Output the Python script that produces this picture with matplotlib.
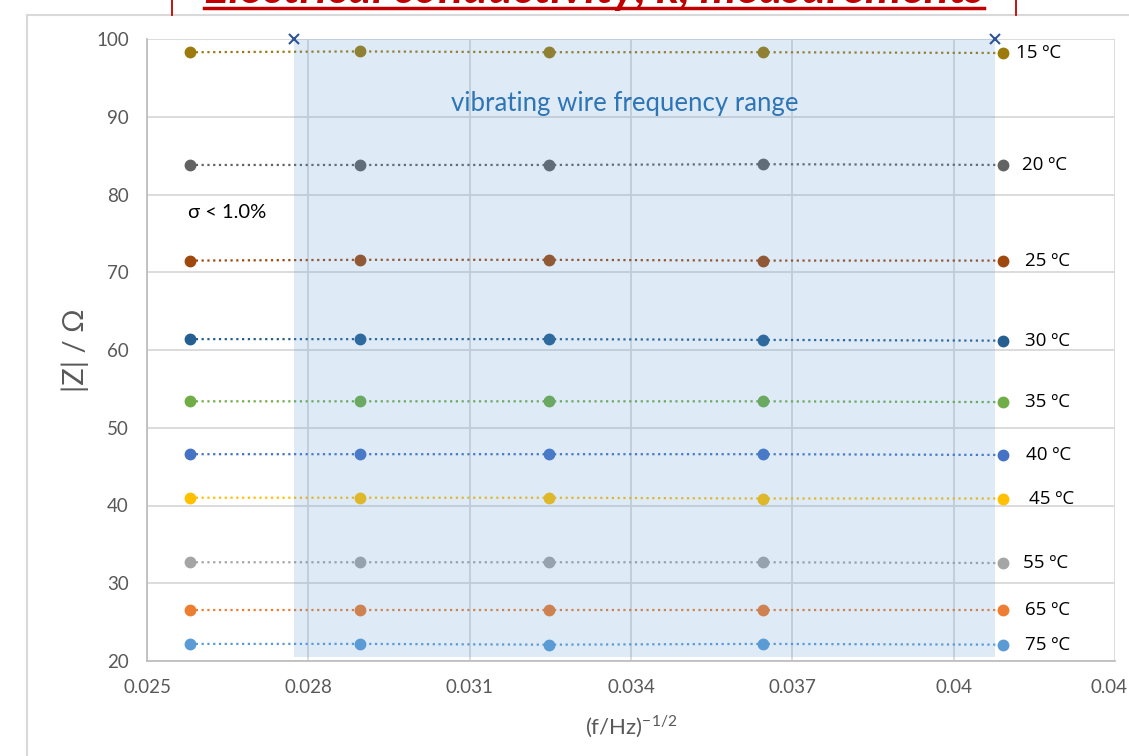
import matplotlib
matplotlib.use("Agg")
import matplotlib.pyplot as plt
from matplotlib.lines import Line2D

# ---- data ----
x_vals = [0.0258, 0.02897, 0.03247, 0.03646, 0.04091]
temps = ["15 ºC", "20 ºC", "25 ºC", "30 ºC", "35 ºC", "40 ºC", "45 ºC", "55 ºC", "65 ºC", "75 ºC"]
z_15 = [98.3, 98.4, 98.3, 98.3, 98.2]
z_20 = [83.8, 83.8, 83.8, 83.9, 83.8]
z_25 = [71.5, 71.6, 71.6, 71.5, 71.5]
z_30 = [61.4, 61.4, 61.4, 61.3, 61.2]
z_35 = [53.4, 53.4, 53.4, 53.4, 53.3]
z_40 = [46.6, 46.6, 46.6, 46.6, 46.5]
z_45 = [41.0, 41.0, 41.0, 40.9, 40.9]
z_55 = [32.7, 32.7, 32.7, 32.7, 32.6]
z_65 = [26.6, 26.6, 26.6, 26.6, 26.6]
z_75 = [22.2, 22.2, 22.1, 22.2, 22.1]
series = [z_15, z_20, z_25, z_30, z_35, z_40, z_45, z_55, z_65, z_75]
range_x = [0.02774, 0.04076]
range_top = 100
range_bottom = 20.5
x_ticks = [0.025, 0.028, 0.031, 0.034, 0.037, 0.040, 0.043]
x_tick_labels = ["0.025", "0.028", "0.031", "0.034", "0.037", "0.04", "0.04"]
y_ticks = [20, 30, 40, 50, 60, 70, 80, 90, 100]

# ---- style ----
colors = ["#9C7A0C", "#636363", "#9E480E", "#255E91", "#70AD47",
          "#4472C4", "#FFC000", "#A5A5A5", "#ED7D31", "#5B9BD5"]
label_dx = [10, 14, 16, 16, 16, 17, 19, 15, 16, 16]  # points

FONT = ["Lato", "DejaVu Sans"]
plt.rcParams['font.family'] = FONT
plt.rcParams['mathtext.fontset'] = 'custom'
plt.rcParams['mathtext.rm'] = 'Lato'

W, H = 1129, 756
fig = plt.figure(figsize=(W / 100, H / 100), dpi=100)
ax = fig.add_axes([147 / W, 1 - 661 / H, (1115 - 147) / W, (661 - 39) / H])

grid_c = "#D9D9D9"
tick_c = "#595959"
ax.set_xlim(x_ticks[0], x_ticks[-1])
ax.set_ylim(y_ticks[0], y_ticks[-1])
ax.set_xticks(x_ticks)
# last label sits at the figure edge: drawn separately, right-aligned
ax.set_xticklabels(x_tick_labels[:-1] + [""])
ax.set_yticks(y_ticks)
ax.grid(True, color=grid_c, linewidth=1.3, zorder=0)
ax.set_axisbelow(True)
for s in ["top", "right"]:
    ax.spines[s].set_visible(False)
for s in ["left", "bottom"]:
    ax.spines[s].set_color("#BFBFBF")
    ax.spines[s].set_linewidth(1.3)
ax.tick_params(length=0, labelsize=13.5, labelcolor=tick_c)
ax.tick_params(axis="x", pad=13)
ax.tick_params(axis="y", pad=13)
ax.annotate(x_tick_labels[-1], xy=(x_ticks[-1], 0), xycoords=ax.get_xaxis_transform(),
            xytext=(9, -13), textcoords="offset points", ha="right", va="top",
            fontsize=13.5, color=tick_c, annotation_clip=False)

for vals, col, lab, dx in zip(series, colors, temps, label_dx):
    ax.plot(x_vals, vals, linestyle=(0, (1, 1.6)), linewidth=1.6, color=col,
            marker="o", markersize=7.5, zorder=3)
    ax.annotate(lab, xy=(x_vals[-1], vals[-1]), xytext=(dx, 0),
                textcoords="offset points", va="center", ha="left",
                fontsize=13.5, color="#000000", zorder=5,
                family=["Open Sans", "DejaVu Sans"])

# shaded vibrating wire range (drawn on top, translucent)
ax.fill_between(range_x, range_bottom, range_top, color="#5B9BD5", alpha=0.2,
                linewidth=0, zorder=4)
ax.plot(range_x, [range_top, range_top], linestyle="none", marker="x",
        color="#2F5597", markersize=6.5, markeredgewidth=1.5, zorder=5, clip_on=False)

ax.text(0.03389, 91.7, "vibrating wire frequency range",
        ha="center", va="center", fontsize=18.5, color="#2E75B6", zorder=6)
ax.text(0.02577, 77.7, "σ < 1.0%", ha="left", va="center", fontsize=14.5,
        color="#000000", zorder=6)

ax.set_ylabel("|Z| / Ω", fontsize=21, color=tick_c, labelpad=5)
ax.set_xlabel(r"(f/Hz)$^{\mathregular{-1/2}}$", fontsize=16, color=tick_c, labelpad=12)

# chart frame (gray) and title box remnants (red)
fig.add_artist(Line2D([27 / W, 27 / W], [0, 1 - 15 / H], transform=fig.transFigure,
                      color="#D9D9D9", linewidth=1.5))
fig.add_artist(Line2D([27 / W, 1], [1 - 15 / H, 1 - 15 / H], transform=fig.transFigure,
                      color="#D9D9D9", linewidth=1.5))
for xr in [172, 1016]:
    fig.add_artist(Line2D([xr / W, xr / W], [1 - 15 / H, 1], transform=fig.transFigure,
                          color="#C00000", linewidth=1.3))

title = fig.text(594 / W, 1 - 3 / H, "Electrical conductivity, κ, measurements",
                 ha="center", va="baseline", fontsize=24, fontweight="bold",
                 fontstyle="italic", color="#C00000")
fig.canvas.draw()
bb = title.get_window_extent(fig.canvas.get_renderer())
title.set_fontsize(24 * 780 / bb.width)
fig.add_artist(Line2D([204 / W, 984 / W], [1 - 8 / H, 1 - 8 / H], transform=fig.transFigure,
                      color="#C00000", linewidth=2.5))

fig.savefig("out.png", dpi=100)
